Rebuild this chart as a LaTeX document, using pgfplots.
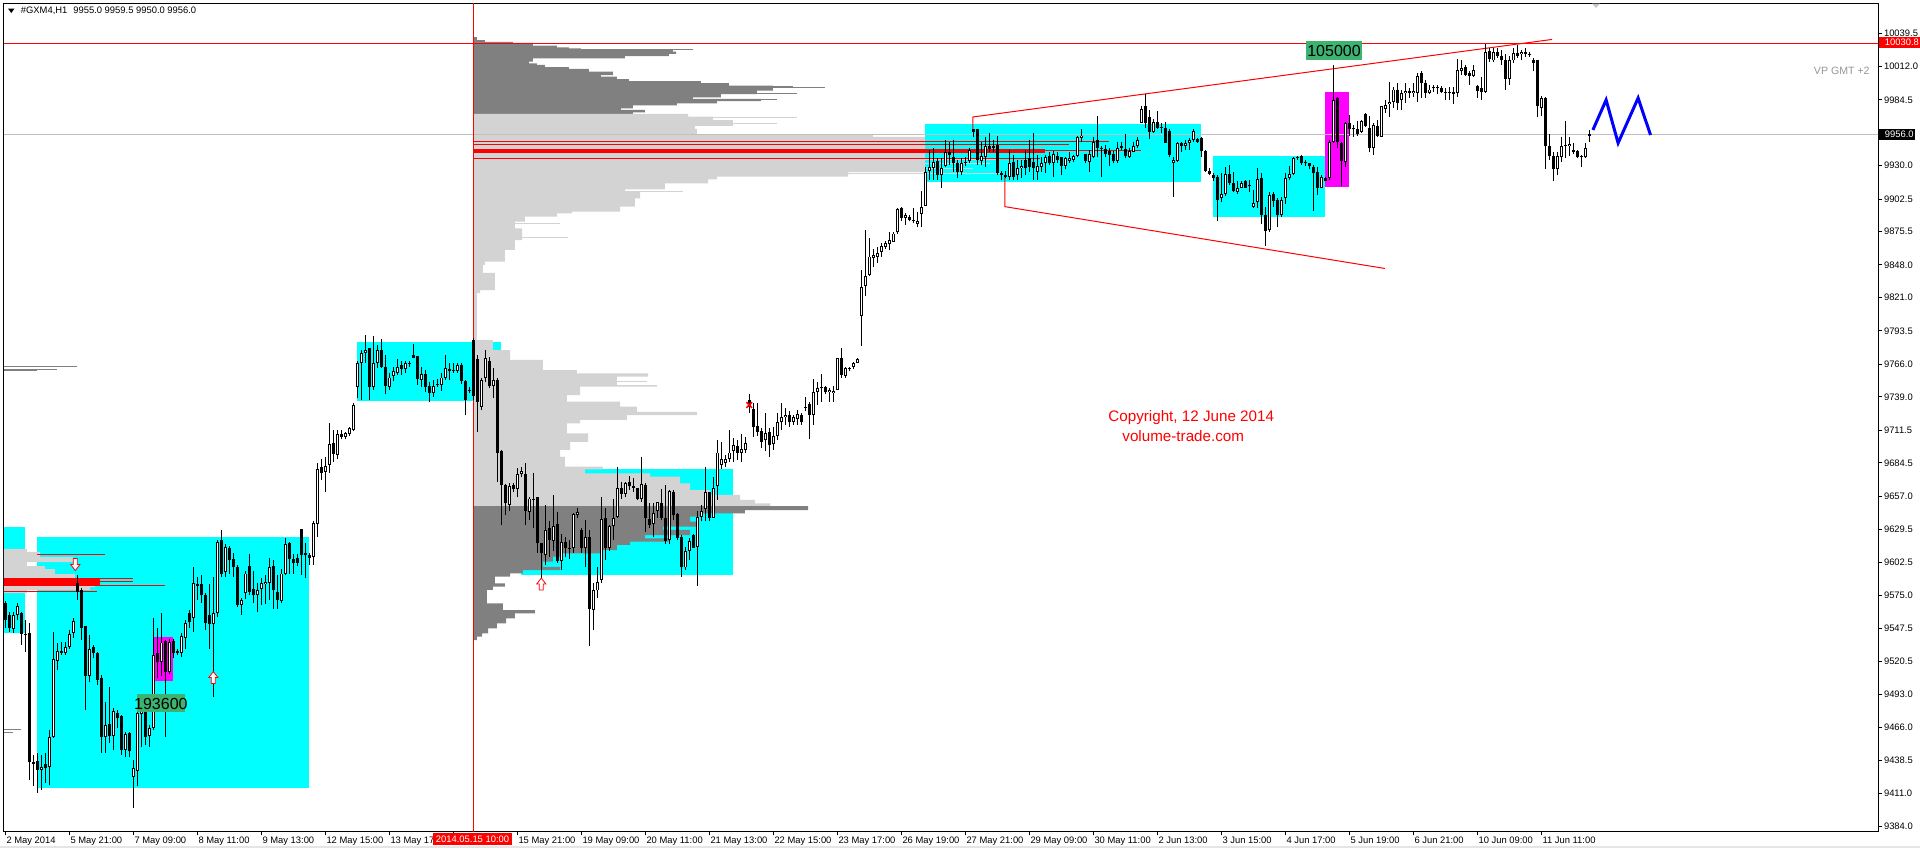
\documentclass[border=0pt]{standalone}
\usepackage{fontspec}
\setmainfont{Liberation Sans}
\usepackage{pgfplots}
\usepackage{pgfplotstable}
\pgfplotsset{compat=1.18}

\definecolor{vpdark}{RGB}{128,128,128}
\definecolor{vplight}{RGB}{211,211,211}
\definecolor{boxcyan}{RGB}{0,255,255}
\definecolor{boxmag}{RGB}{255,0,255}
\definecolor{lblgreen}{RGB}{60,179,113}
\definecolor{pricegray}{RGB}{192,192,192}
\definecolor{vptext}{RGB}{150,150,150}
\newcommand\mt{\fontsize{4.7}{5.6}\selectfont}

% hollow arrow marks (MT4 arrow objects)
\pgfdeclareplotmark{arrdown}{%
  \pgfpathmoveto{\pgfqpoint{-1pt}{3pt}}\pgfpathlineto{\pgfqpoint{1pt}{3pt}}%
  \pgfpathlineto{\pgfqpoint{1pt}{0pt}}\pgfpathlineto{\pgfqpoint{2.3pt}{0pt}}%
  \pgfpathlineto{\pgfqpoint{0pt}{-3pt}}\pgfpathlineto{\pgfqpoint{-2.3pt}{0pt}}%
  \pgfpathlineto{\pgfqpoint{-1pt}{0pt}}\pgfpathclose\pgfusepathqfillstroke}
\pgfdeclareplotmark{arrup}{%
  \pgfpathmoveto{\pgfqpoint{-1pt}{-3pt}}\pgfpathlineto{\pgfqpoint{1pt}{-3pt}}%
  \pgfpathlineto{\pgfqpoint{1pt}{0pt}}\pgfpathlineto{\pgfqpoint{2.3pt}{0pt}}%
  \pgfpathlineto{\pgfqpoint{0pt}{3pt}}\pgfpathlineto{\pgfqpoint{-2.3pt}{0pt}}%
  \pgfpathlineto{\pgfqpoint{-1pt}{0pt}}\pgfpathclose\pgfusepathqfillstroke}

% H1 bars, #GXM4, 2 May - 12 Jun 2014
\pgfplotstableread{
o h l c
9569 9570 9548 9555
9559 9561 9545 9548
9547 9561 9544 9559
9559 9569 9555 9566
9560 9561 9534 9543
9543 9555 9528 9542
9544 9552 9422 9437
9437 9443 9417 9436
9438 9445 9412 9431
9431 9443 9414 9433
9436 9445 9420 9432
9433 9464 9418 9458
9458 9545 9457 9522
9521 9536 9513 9529
9529 9536 9526 9527
9527 9536 9526 9532
9532 9546 9531 9543
9544 9556 9540 9554
9585 9592 9571 9578
9579 9581 9538 9548
9550 9550 9480 9508
9508 9542 9503 9531
9532 9534 9523 9527
9527 9528 9501 9505
9507 9509 9445 9458
9458 9487 9445 9468
9469 9499 9453 9459
9459 9482 9447 9479
9478 9480 9465 9474
9475 9476 9443 9447
9447 9462 9441 9460
9461 9462 9441 9446
9425 9439 9399 9432
9430 9480 9417 9478
9477 9482 9450 9480
9482 9484 9451 9458
9459 9468 9450 9465
9465 9556 9464 9526
9527 9548 9507 9520
9520 9560 9508 9536
9537 9538 9458 9512
9512 9539 9510 9536
9537 9539 9523 9527
9529 9531 9526 9527
9527 9544 9524 9541
9540 9555 9531 9552
9560 9563 9548 9553
9556 9598 9545 9585
9584 9590 9571 9583
9584 9592 9569 9575
9575 9577 9546 9552
9559 9584 9531 9551
9551 9590 9491 9560
9560 9621 9557 9619
9621 9629 9590 9593
9594 9617 9590 9615
9614 9616 9593 9604
9605 9610 9590 9598
9598 9600 9565 9567
9567 9573 9559 9571
9577 9595 9572 9593
9599 9609 9575 9578
9580 9595 9569 9575
9575 9585 9561 9579
9580 9589 9567 9585
9584 9592 9568 9586
9585 9606 9571 9598
9599 9604 9564 9579
9578 9592 9564 9571
9570 9597 9569 9593
9593 9622 9592 9617
9618 9619 9593 9605
9605 9609 9593 9602
9606 9609 9599 9602
9630 9630 9592 9608
9610 9618 9589 9608
9608 9610 9600 9606
9607 9636 9600 9635
9634 9684 9623 9679
9681 9688 9670 9676
9677 9689 9660 9682
9683 9717 9676 9700
9701 9712 9685 9692
9691 9712 9688 9708
9708 9712 9704 9706
9706 9710 9704 9709
9708 9714 9707 9713
9712 9734 9711 9732
9747 9769 9738 9767
9767 9778 9736 9775
9775 9790 9767 9778
9779 9779 9736 9747
9747 9789 9745 9767
9767 9782 9763 9778
9778 9787 9763 9764
9764 9774 9741 9748
9747 9759 9745 9755
9756 9764 9752 9760
9759 9770 9757 9764
9765 9769 9757 9762
9762 9769 9759 9767
9767 9769 9764 9766
9774 9783 9771 9771
9773 9773 9749 9754
9753 9764 9747 9758
9758 9761 9743 9747
9748 9751 9735 9742
9742 9753 9739 9748
9750 9754 9747 9749
9749 9759 9744 9755
9755 9774 9753 9763
9762 9767 9753 9760
9761 9767 9759 9760
9760 9767 9759 9765
9765 9767 9750 9752
9752 9753 9724 9736
9745 9747 9742 9744
9786 9788 9736 9740
9770 9774 9710 9735
9731 9755 9728 9753
9755 9778 9751 9771
9769 9772 9746 9748
9748 9763 9738 9753
9753 9755 9669 9693
9694 9695 9633 9666
9666 9667 9641 9651
9650 9668 9645 9665
9666 9668 9660 9663
9663 9680 9656 9675
9675 9681 9673 9678
9675 9684 9633 9645
9644 9656 9637 9655
9655 9676 9631 9654
9656 9656 9610 9618
9618 9618 9579 9610
9608 9650 9600 9629
9631 9636 9607 9621
9620 9658 9612 9632
9634 9644 9602 9603
9603 9626 9596 9619
9619 9623 9607 9614
9614 9621 9605 9613
9614 9643 9610 9642
9641 9647 9639 9644
9629 9631 9610 9614
9614 9637 9598 9623
9623 9629 9533 9564
9563 9585 9546 9579
9579 9598 9573 9586
9588 9656 9585 9638
9639 9647 9604 9614
9614 9633 9612 9632
9632 9655 9621 9639
9640 9681 9639 9664
9664 9669 9655 9659
9659 9669 9656 9668
9669 9674 9662 9665
9665 9672 9660 9664
9664 9664 9654 9655
9655 9689 9652 9667
9666 9668 9627 9639
9638 9651 9631 9633
9634 9651 9623 9643
9645 9652 9639 9652
9651 9663 9637 9639
9639 9666 9617 9620
9621 9662 9617 9661
9660 9662 9637 9641
9642 9643 9621 9622
9623 9625 9590 9598
9598 9615 9596 9612
9612 9622 9604 9620
9625 9626 9614 9614
9615 9645 9583 9640
9640 9650 9636 9645
9646 9681 9636 9660
9660 9660 9636 9639
9639 9673 9639 9664
9665 9703 9654 9693
9683 9702 9679 9688
9684 9691 9681 9688
9688 9712 9685 9693
9694 9705 9685 9699
9698 9703 9687 9693
9693 9708 9685 9696
9695 9706 9693 9701
9736 9741 9726 9731
9729 9734 9706 9714
9715 9734 9707 9710
9711 9713 9697 9702
9703 9726 9694 9709
9710 9713 9689 9699
9700 9714 9695 9707
9707 9726 9703 9718
9718 9734 9712 9722
9722 9730 9716 9724
9724 9727 9714 9718
9718 9724 9716 9722
9721 9728 9716 9725
9724 9726 9716 9718
9730 9739 9727 9731
9733 9735 9704 9724
9724 9754 9716 9743
9743 9751 9732 9746
9746 9758 9735 9747
9747 9748 9741 9743
9743 9746 9735 9745
9742 9748 9735 9744
9745 9771 9745 9771
9771 9779 9755 9757
9756 9764 9755 9763
9762 9764 9760 9763
9764 9768 9762 9767
9767 9771 9767 9770
9806 9844 9781 9830
9831 9877 9822 9839
9840 9870 9839 9855
9854 9861 9846 9856
9855 9863 9850 9858
9859 9866 9855 9864
9863 9868 9861 9866
9865 9875 9860 9869
9867 9875 9867 9874
9875 9895 9874 9894
9895 9896 9884 9887
9887 9891 9881 9889
9888 9889 9884 9885
9884 9895 9883 9884
9882 9892 9879 9884
9890 9909 9879 9896
9897 9929 9897 9925
9926 9943 9918 9929
9928 9945 9918 9933
9934 9936 9918 9922
9922 9936 9912 9928
9930 9951 9929 9941
9941 9950 9931 9939
9937 9951 9925 9932
9932 9935 9920 9925
9925 9936 9922 9932
9932 9937 9930 9933
9934 9945 9932 9943
9960 9960 9954 9958
9960 9960 9931 9935
9934 9950 9931 9938
9937 9954 9929 9946
9946 9957 9941 9944
9945 9951 9941 9946
9947 9955 9922 9924
9924 9926 9918 9922
9922 9926 9920 9921
9921 9943 9918 9932
9933 9939 9918 9921
9922 9935 9918 9928
9928 9935 9920 9930
9935 9943 9922 9928
9936 9951 9925 9929
9933 9957 9918 9928
9925 9939 9918 9930
9929 9937 9925 9932
9932 9939 9924 9937
9938 9941 9931 9932
9932 9942 9921 9940
9938 9941 9932 9935
9937 9937 9922 9930
9930 9937 9927 9936
9934 9941 9932 9936
9935 9939 9933 9938
9938 9955 9937 9954
9953 9960 9950 9955
9940 9940 9932 9934
9933 9943 9925 9940
9937 9954 9936 9950
9951 9971 9937 9945
9945 9946 9921 9944
9944 9947 9937 9940
9942 9945 9930 9939
9940 9942 9932 9934
9934 9950 9932 9945
9946 9950 9943 9945
9944 9956 9936 9938
9937 9945 9936 9942
9941 9950 9941 9946
9946 9954 9945 9951
9965 9979 9965 9977
9979 9989 9961 9965
9970 9976 9952 9958
9958 9969 9957 9966
9966 9975 9960 9961
9962 9965 9957 9961
9961 9966 9949 9949
9959 9960 9937 9939
9932 9937 9904 9935
9934 9950 9933 9949
9949 9950 9941 9946
9946 9951 9943 9949
9949 9953 9943 9951
9951 9960 9950 9959
9952 9953 9949 9950
9953 9954 9937 9942
9942 9943 9925 9926
9926 9928 9922 9923
9922 9924 9917 9920
9921 9922 9884 9902
9903 9924 9900 9907
9907 9929 9905 9923
9923 9931 9914 9916
9916 9925 9908 9909
9908 9917 9907 9912
9912 9917 9912 9916
9917 9918 9912 9912
9914 9918 9908 9913
9896 9910 9895 9899
9900 9928 9895 9919
9920 9924 9882 9889
9889 9896 9864 9876
9877 9908 9875 9906
9907 9908 9896 9901
9902 9903 9879 9889
9889 9904 9888 9902
9903 9924 9898 9920
9920 9930 9918 9923
9923 9937 9922 9936
9937 9938 9935 9936
9938 9939 9931 9932
9932 9935 9930 9933
9932 9932 9927 9930
9929 9931 9893 9924
9925 9929 9906 9912
9912 9922 9912 9921
9920 9921 9917 9917
9920 9951 9918 9950
9950 10013 9949 9984
9986 9987 9945 9950
9949 9950 9913 9934
9933 9966 9929 9965
9965 9972 9955 9960
9961 9964 9954 9960
9960 9967 9955 9956
9958 9968 9957 9967
9973 9974 9962 9963
9961 9971 9941 9945
9945 9965 9939 9964
9963 9968 9954 9955
9954 9979 9954 9979
9977 9984 9974 9980
9981 9999 9970 9983
9983 9995 9978 9993
9993 9998 9976 9982
9984 9993 9976 9990
9990 9998 9982 9992
9992 9994 9986 9990
9990 9998 9987 9992
9990 10007 9983 10004
10007 10008 9986 9998
9998 10001 9986 9990
9990 9997 9989 9993
9994 9997 9991 9994
9994 9997 9989 9995
9994 9996 9990 9991
9991 9994 9984 9990
9991 9995 9984 9990
9991 9995 9981 9989
9990 10018 9987 10009
10008 10017 10005 10011
10012 10013 10004 10005
10007 10008 9997 10004
10004 10013 10003 10009
9996 9997 9986 9992
9994 10003 9984 9991
9991 10031 9990 10024
10025 10027 10016 10018
10017 10027 10016 10024
10024 10027 10019 10021
10021 10026 10013 10017
10017 10022 9993 10002
10002 10021 9997 10017
10017 10027 10015 10023
10023 10030 10019 10021
10022 10026 10017 10024
10024 10027 10020 10022
10022 10024 10020 10021.5
10017 10019 10008 10015
10017 10017 9970 9979
9978 9988 9971 9986
9986 9987 9927 9946
9946 9956 9935 9938
9938 9941 9917 9927
9927 9941 9922 9938
9937 9954 9933 9946
9946 9967 9936 9947
9946 9954 9938 9948
9943 9949 9940 9941
9942 9943 9936 9937
9938 9939 9929 9937
9937 9949 9936 9945
9955.0 9959.5 9950.0 9956.0
}\candles

\pgfplotsset{
  hbar/.style={draw=none, mark=none, forget plot,
    error bars/.cd, x dir=plus, x explicit, error mark=none,
    error bar style={draw=#1, line width=0.5pt}},
}

\begin{document}
\begin{tikzpicture}
\path[use as bounding box] (0,0) rectangle (960pt,-424pt);
\begin{axis}[
  at={(2pt,-1.5pt)}, anchor=north west,
  scale only axis, width=937pt, height=414pt,
  xmin=-0.325, xmax=468.175, ymin=9380.2, ymax=10064.5,
  axis line style={black, line width=0.5pt},
  tick style={black, line width=0.5pt},
  tick align=outside, major tick length=2.2pt,
  xtick pos=bottom, ytick pos=right, yticklabel pos=right,
  scaled y ticks=false, scaled x ticks=false,
  xtick={0,16,...,384},
  xticklabels={2 May 2014, 5 May 21:00, 7 May 09:00, 8 May 11:00, 9 May 13:00,
    12 May 15:00, 13 May 17, {}, 15 May 21:00, 19 May 09:00,
    20 May 11:00, 21 May 13:00, 22 May 15:00, 23 May 17:00, 26 May 19:00,
    27 May 21:00, 29 May 09:00, 30 May 11:00, 2 Jun 13:00, 3 Jun 15:00,
    4 Jun 17:00, 5 Jun 19:00, 6 Jun 21:00, 10 Jun 09:00, 11 Jun 11:00},
  xticklabel style={font=\mt, anchor=north west, inner sep=0.4pt},
  ytick={9384,9411,9438.5,9466,9493,9520.5,9547.5,9575,9602.5,9629.5,9657,
    9684.5,9711.5,9739,9766,9793.5,9821,9848,9875.5,9902.5,9930,9984.5,10012,10039.5},
  yticklabel style={font=\mt, anchor=west, inner sep=0.6pt,
    /pgf/number format/fixed, /pgf/number format/fixed zerofill,
    /pgf/number format/precision=1, /pgf/number format/1000 sep={}},
  /pgf/number format/assume math mode=true,
]
% boxes
\addplot[fill=boxcyan, draw=none] coordinates {(-0.4,9631.4) (4.9,9631.4) (4.9,9543.8) (-0.4,9543.8)} -- cycle;
\addplot[fill=boxcyan, draw=none] coordinates {(7.85,9623.2) (76,9623.2) (76,9415.7) (7.85,9415.7)} -- cycle;
\addplot[fill=boxcyan, draw=none] coordinates {(88,9784.3) (123.9,9784.3) (123.9,9735.6) (88,9735.6)} -- cycle;
\addplot[fill=boxcyan, draw=none] coordinates {(128.9,9679.4) (181.9,9679.4) (181.9,9591.8) (128.9,9591.8)} -- cycle;
\addplot[fill=boxcyan, draw=none] coordinates {(229.9,9964.5) (298.9,9964.5) (298.9,9916.6) (229.9,9916.6)} -- cycle;
\addplot[fill=boxcyan, draw=none] coordinates {(301.9,9938.1) (329.9,9938.1) (329.9,9887.6) (301.9,9887.6)} -- cycle;
\addplot[fill=boxmag, draw=none] coordinates {(37.2,9540.5) (41.85,9540.5) (41.85,9504.2) (37.2,9504.2)} -- cycle;
\addplot[fill=boxmag, draw=none] coordinates {(329.9,9991) (335.9,9991) (335.9,9912.4) (329.9,9912.4)} -- cycle;

% left volume profile
\addplot[fill=vplight, draw=none] coordinates {(-0.4,9613.3) (5.4,9613.3) (5.4,9610.8) (8.7,9610.8) (8.7,9606.6)
  (16.9,9606.6) (16.9,9602.5) (5.4,9602.5) (5.4,9599.2) (9.9,9599.2) (9.9,9596.7) (12.4,9596.7) (12.4,9592.6)
  (17.4,9592.6) (17.4,9589.3) (22.4,9589.3) (22.4,9581.8) (21.2,9581.8) (21.2,9579.4) (5.4,9579.4) (5.4,9576.9)
  (-0.4,9576.9)} -- cycle;
\addplot[fill=red, draw=none] coordinates {(-0.4,9588.9) (23.7,9588.9) (23.7,9582.3) (-0.4,9582.3)} -- cycle;
\addplot[hbar=red] coordinates {(7.9,9609.1) +- (17,0) (-0.4,9588.5) +- (32.3,0) (-0.4,9586) +- (32.3,0)
  (-0.4,9583.5) +- (40.3,0) (-0.4,9578.5) +- (23.3,0)};
\addplot[hbar=vpdark] coordinates {(-0.4,9763.7) +- (18.3,0) (-0.4,9762) +- (13.3,0) (-0.4,9760.4) +- (8.3,0)
  (-0.4,9463.7) +- (4.3,0) (-0.4,9462) +- (2.3,0)};

% main volume profile from the 15 May session
\addplot[fill=vpdark, draw=none] coordinates {(117,10036.4) (117.9,10036.4) (117.9,10033.9) (119.9,10033.9)
  (119.9,10032.3) (126.9,10032.3) (126.9,10031.5) (131.9,10031.5) (131.9,10029.2) (137.9,10029.2) (137.9,10027.9)
  (140.9,10027.9) (140.9,10027.1) (143.9,10027.1) (143.9,10026.3) (166.9,10026.3) (166.9,10024.3) (167.7,10024.3)
  (167.7,10022.4) (165.9,10022.4) (165.9,10020.7) (154.9,10020.7) (154.9,10018.8) (131.9,10018.8) (131.9,10016)
  (130.9,10016) (130.9,10014.7) (132.9,10014.7) (132.9,10013.3) (134.9,10013.3) (134.9,10011.6) (140.9,10011.6)
  (140.9,10010) (145.9,10010) (145.9,10007.7) (151.9,10007.7) (151.9,10005) (148.9,10005) (148.9,10003.6)
  (152.9,10003.6) (152.9,10001.5) (155.9,10001.5) (155.9,10000) (173.9,10000) (173.9,9998.2) (180.9,9998.2)
  (180.9,9996.2) (191.9,9996.2) (191.9,9992) (187.9,9992) (187.9,9989.3) (178.9,9989.3) (178.9,9986.6)
  (171.9,9986.6) (171.9,9985.2) (188.9,9985.2) (188.9,9983.5) (177.9,9983.5) (177.9,9981.6) (167.9,9981.6)
  (167.9,9980) (156.9,9980) (156.9,9977.5) (153.9,9977.5) (153.9,9976.1) (159.9,9976.1) (159.9,9974.2)
  (156.9,9974.2) (156.9,9972.8) (117,9972.8)} -- cycle;
\addplot[fill=vplight, draw=none] coordinates {(117,9972.8) (170.7,9972.8) (170.7,9970.5) (176.9,9970.5)
  (176.9,9967.8) (181.9,9967.8) (181.9,9962.9) (172.4,9962.9) (172.4,9960.4) (172.9,9960.4) (172.9,9956.2)
  (216.9,9956.2) (216.9,9953.8) (229.9,9953.8) (229.9,9924.8) (210.7,9924.8) (210.7,9921) (177.9,9921)
  (177.9,9918.8) (175.7,9918.8) (175.7,9915.5) (164.9,9915.5) (164.9,9910.5) (154.9,9910.5) (154.9,9908.6)
  (158.7,9908.6) (158.7,9903.1) (157.4,9903.1) (157.4,9896.2) (153.7,9896.2) (153.7,9892) (141.7,9892)
  (141.7,9890.7) (137.9,9890.7) (137.9,9887.9) (129.9,9887.9) (129.9,9883.8) (127.4,9883.8) (127.4,9878.3)
  (129.2,9878.3) (129.2,9868.6) (127.4,9868.6) (127.4,9860.4) (124.9,9860.4) (124.9,9850.7) (119.9,9850.7)
  (119.9,9848) (119.4,9848) (119.4,9841.4) (122.4,9841.4) (122.4,9827.3) (118.7,9827.3) (118.7,9824.8)
  (117.9,9824.8) (117.9,9786) (121.9,9786) (121.9,9777.7) (126.2,9777.7) (126.2,9769.5) (134.4,9769.5)
  (134.4,9761.2) (142.9,9761.2) (142.9,9758.5) (160.7,9758.5) (160.7,9755.7) (152.9,9755.7)
  (152.9,9748.8) (162.9,9748.8) (162.9,9747.4) (143.7,9747.4) (143.7,9740.5) (140.4,9740.5) (140.4,9735)
  (153.7,9735) (153.7,9730.9) (157.9,9730.9) (157.9,9726.7) (172.9,9726.7) (172.9,9724) (155.4,9724)
  (155.4,9719.9) (143.7,9719.9) (143.7,9717.1) (140.4,9717.1) (140.4,9708.9) (145.7,9708.9) (145.7,9701.9)
  (141.2,9701.9) (141.2,9695.1) (138.7,9695.1) (138.7,9689.5) (139.9,9689.5) (139.9,9681.3) (149.4,9681.3)
  (149.4,9679.1) (144.9,9679.1) (144.9,9675.8) (161.2,9675.8) (161.2,9673) (168.7,9673) (168.7,9667.5)
  (171.2,9667.5) (171.2,9662) (176.2,9662) (176.2,9657.9) (183.7,9657.9) (183.7,9653.8) (187.4,9653.8)
  (187.4,9651) (191.2,9651) (191.2,9648.8) (117,9648.8)} -- cycle;
\addplot[fill=vpdark, draw=none] coordinates {(117,9648.8) (200.7,9648.8) (200.7,9645.5) (184.9,9645.5)
  (184.9,9642.8) (174.4,9642.8) (174.4,9640) (171.2,9640) (171.2,9635.8) (172.9,9635.8) (172.9,9631.7)
  (164.4,9631.7) (164.4,9629) (171.2,9629) (171.2,9624.8) (159.9,9624.8) (159.9,9622.1) (166.2,9622.1)
  (166.2,9619.3) (156.2,9619.3) (156.2,9616.6) (152.9,9616.6) (152.9,9612.4) (149.4,9612.4) (149.4,9609.7)
  (139.4,9609.7) (139.4,9606.9) (136.9,9606.9) (136.9,9602.8) (134.4,9602.8) (134.4,9598.6) (138.7,9598.6)
  (138.7,9595.9) (129.4,9595.9) (129.4,9593.2) (126.2,9593.2) (126.2,9590.4) (122.4,9590.4) (122.4,9584.9)
  (124.9,9584.9) (124.9,9582.1) (121.9,9582.1) (121.9,9579.4) (120.4,9579.4) (120.4,9568.4) (124.4,9568.4)
  (124.4,9562.8) (132.4,9562.8) (132.4,9560.1) (127.4,9560.1) (127.4,9556) (125.2,9556) (125.2,9551.8)
  (122.9,9551.8) (122.9,9547.7) (120.7,9547.7) (120.7,9543.6) (119.2,9543.6) (119.2,9540.8) (117.9,9540.8)
  (117.9,9538) (117,9538)} -- cycle;
\addplot[hbar=vpdark] coordinates {(117,10025.7) +- (54.9,0) (117,9995.9) +- (79.9,0) (117,9994.8) +- (87.9,0)
  (117,9990.1) +- (80.9,0) (117,9984.4) +- (75.9,0)};
\addplot[hbar=vplight] coordinates {(117,9970.1) +- (80.9,0) (117,9965.3) +- (75.9,0) (117,9934.8) +- (131.7,0)
  (117,9931.5) +- (129.2,0) (117,9928.1) +- (125,0) (117,9924) +- (131.7,0) (117,9922.4) +- (70.9,0)
  (117,9909.1) +- (52.4,0) (117,9881.9) +- (21.7,0) (117,9871.1) +- (23.7,0) (117,9752) +- (43.4,0)};
% point of control
\addplot[fill=red, draw=none] coordinates {(117,9944.1) (259.9,9944.1) (259.9,9940.8) (117,9940.8)} -- cycle;
\addplot[hbar=red] coordinates {(117,9950.2) +- (158.9,0) (117,9947.4) +- (148.9,0) (117,9943) +- (166.9,0)
  (117,9936.2) +- (141.7,0)};

% price lines and session line
\addplot[pricegray, line width=0.5pt] coordinates {(-0.4,9956) (469,9956)};
\addplot[red, line width=0.5pt] coordinates {(-0.4,10030.8) (469,10030.8)};
\addplot[red, line width=0.5pt] coordinates {(117,9370) (117,10070)};

% wedge and projection
\addplot[red, line width=0.5pt] coordinates {(241.9,9959.6) (241.9,9970.3) (386.7,10034.4)};
\addplot[red, line width=0.5pt] coordinates {(249.9,9920.7) (249.9,9896.2) (344.9,9845.1)};
\addplot[blue, line width=1.5pt] coordinates {(396.9,9959.6) (400.2,9984.4) (403.2,9948.8) (408.2,9986) (411.3,9955.4)};

% candlesticks
\addplot[draw=none, mark=none, error bars/.cd, y dir=plus, y explicit, error mark=none,
  error bar style={draw=black, line width=0.5pt}]
  table[x expr=\coordindex, y=l, y error expr=\thisrow{h}-\thisrow{l}] {\candles};
\addplot[draw=none, mark=none, error bars/.cd, y dir=plus, y explicit, error mark=none,
  error bar style={draw=black, line width=1.6pt}]
  table[x expr=\coordindex, y expr={min(\thisrow{o},\thisrow{c})},
    y error expr={max(abs(\thisrow{c}-\thisrow{o}),0.9)}] {\candles};
\addplot[draw=none, mark=none, restrict expr to domain={\thisrow{c}-\thisrow{o}}{1.7:10000},
  error bars/.cd, y dir=plus, y explicit, error mark=none,
  error bar style={draw=white, line width=0.6pt}]
  table[x expr=\coordindex, y expr={\thisrow{o}+0.8}, y error expr={\thisrow{c}-\thisrow{o}-1.6}] {\candles};

% arrow and cross objects
\addplot[only marks, mark=arrdown, mark options={draw=red, fill=white, line width=0.4pt}] coordinates {(17.5,9600.4)};
\addplot[only marks, mark=arrup, mark options={draw=red, fill=white, line width=0.4pt}] coordinates {(52,9507) (134,9584.3)};
\addplot[only marks, mark=x, mark size=2pt, red, line width=0.8pt] coordinates {(186,9732.3)};
\end{axis}

\begin{scope}[x=0.5pt, y=-0.5pt]
% header
\fill (8,8.5) -- (14.5,8.5) -- (11.25,13) -- cycle;
\node[anchor=west, inner sep=0] at (20.5,11.2) {\mt\#GXM4,H1\hspace{3pt}9955.0 9959.5 9950.0 9956.0};
\fill[gray!45] (1592,3.5) -- (1600,3.5) -- (1596,8) -- cycle;
% volume labels
\fill[lblgreen] (136.7,694) rectangle (185,712);
\node[inner sep=0] at (160.9,703.5) {\fontsize{8}{8}\selectfont 193600};
\fill[lblgreen] (1306,41) rectangle (1362,60);
\node[inner sep=0] at (1334,51) {\fontsize{8}{8}\selectfont 105000};
% notes
\node[anchor=north west, inner sep=0, text=red] at (1108,410) {\fontsize{7.6}{9}\selectfont Copyright, 12 June 2014};
\node[anchor=north west, inner sep=0, text=red] at (1122,430) {\fontsize{7.6}{9}\selectfont volume-trade.com};
\node[anchor=east, inner sep=0, text=vptext] at (1870,71) {\fontsize{5.3}{6}\selectfont VP GMT +2};
% price boxes on the scale
\fill[red] (1879,37) rectangle (1920,48);
\node[anchor=west, inner sep=0, text=white] at (1884.5,42.7) {\mt 10030.8};
\fill[black] (1879,129) rectangle (1915,140);
\node[anchor=west, inner sep=0, text=white] at (1884.5,134.7) {\mt 9956.0};
% time box of the session line
\fill[red] (433,832.5) rectangle (512,845);
\node[inner sep=0, text=white] at (472.5,838.8) {\mt 2014.05.15 10:00};
\fill[gray!20] (0,846) rectangle (1920,848);
\end{scope}
\end{tikzpicture}
\end{document}
